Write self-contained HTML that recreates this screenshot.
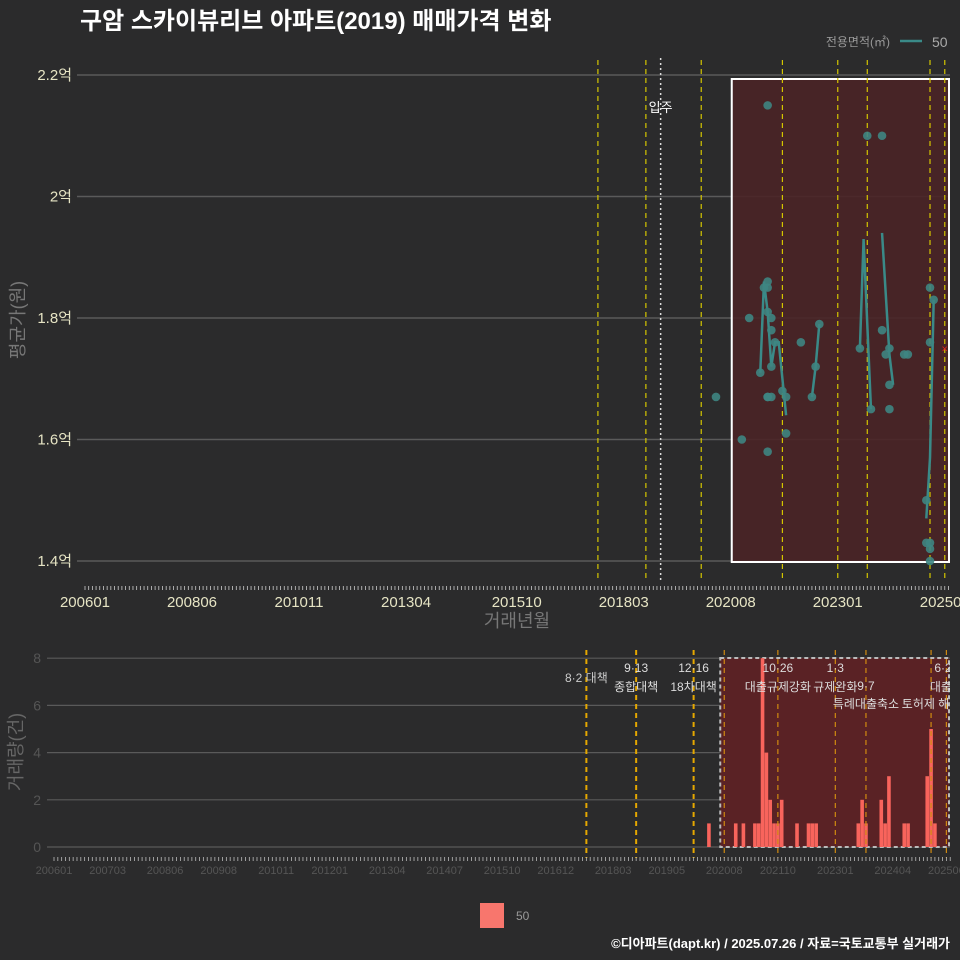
<!DOCTYPE html>
<html><head><meta charset="utf-8">
<style>
html,body{margin:0;padding:0;background:#2b2b2c;}
svg{display:block;font-family:"Liberation Sans","Noto Sans CJK KR",sans-serif;}
</style></head>
<body>
<svg id="chart" width="960" height="960" viewBox="0 0 960 960" xmlns="http://www.w3.org/2000/svg">
<rect x="0" y="0" width="960" height="960" fill="#2b2b2c"/>
<text x="80" y="29" font-size="24" font-weight="bold" fill="#ffffff">구암 스카이뷰리브 아파트(2019) 매매가격 변화</text>
<text x="890" y="46" font-size="12" fill="#999" text-anchor="end">전용면적(㎡)</text>
<line x1="900" y1="41" x2="922" y2="41" stroke="#3a8a88" stroke-width="2.5"/>
<text x="932" y="47" font-size="14" fill="#aaa">50</text>
<text transform="translate(24,320) rotate(-90)" font-size="18" fill="#777" text-anchor="middle">평균가(원)</text>
<text x="517" y="627" font-size="18" fill="#777" text-anchor="middle">거래년월</text>
<text transform="translate(22,752) rotate(-90)" font-size="18" fill="#666" text-anchor="middle">거래량(건)</text>
<rect x="480" y="903" width="24" height="25" fill="#f8766d"/>
<text x="516" y="920" font-size="12" fill="#999">50</text>
<text x="950" y="948" font-size="13" font-weight="bold" fill="#fff" text-anchor="end">©디아파트(dapt.kr) / 2025.07.26 / 자료=국토교통부 실거래가</text>
<g id="topg"></g>
<g id="botg"></g>
</svg>
<script>
const priceTicks = [1.4, 1.6, 1.8, 2.0, 2.2];
const priceTickLabels = ["1.4억", "1.6억", "1.8억", "2억", "2.2억"];
const topXLabels = ["200601","200806","201011","201304","201510","201803","202008","202301","202506"];
const botXLabels = ["200601","200703","200806","200908","201011","201201","201304","201407","201510","201612","201803","201905","202008","202110","202301","202404","202506"];
const pointMonths = [171,185,212,216,185,184,185,180,185,186,186,187,183,186,185,185,186,189,190,190,178,185,194,197,198,199,210,216,213,217,218,218,218,222,223,229,230,229,228,228,229,229,229];
const pointValues = [1.67,2.15,2.10,2.10,1.86,1.85,1.85,1.80,1.81,1.80,1.78,1.76,1.71,1.72,1.67,1.67,1.67,1.68,1.67,1.61,1.60,1.58,1.76,1.67,1.72,1.79,1.75,1.78,1.65,1.74,1.75,1.69,1.65,1.74,1.74,1.85,1.83,1.76,1.50,1.43,1.43,1.42,1.40];
const lineSeg1M = [183,184,185,186,187,188,190];
const lineSeg1V = [1.71,1.86,1.81,1.72,1.76,1.76,1.64];
const lineSeg2M = [197,198,199];
const lineSeg2V = [1.67,1.72,1.79];
const lineSeg3M = [210,211,213];
const lineSeg3V = [1.75,1.93,1.65];
const lineSeg4M = [216,218,219];
const lineSeg4V = [1.94,1.74,1.69];
const lineSeg5M = [228,229,230];
const lineSeg5V = [1.47,1.57,1.83];
const volMonths = [171,178,180,183,184,185,186,187,188,189,190,194,197,198,199,210,211,212,216,217,218,222,223,228,229,230];
const volCounts = [1,1,1,1,1,8,4,2,1,1,2,1,1,1,1,1,2,1,2,1,3,1,1,3,5,1];
const policyMonths = [139,152,167,189,204,212,229,233];
const policyTop = ["8·2 대책","9·13","12·16","10·26","1·3","","","6·27"];
const policyBottom = ["","종합대책","18차대책","대출규제강화","규제완화","특례대출축소","토허제 해제","대출규"];
const moveInMonth = 156;
const lastPriceMonth = 233, lastPriceValue = 1.75;

const NS="http://www.w3.org/2000/svg";
function mk(tag, attrs, parent, txt){const e=document.createElementNS(NS,tag);for(const k in attrs)e.setAttribute(k,attrs[k]);if(txt!==undefined)e.textContent=txt;parent.appendChild(e);return e;}
const topG=document.getElementById('topg'), botG=document.getElementById('botg');
const xT = m => 85 + 3.69*m;
const yT = v => 561 - (v-1.4)/0.2*121.5;
const xB = m => 54 + 3.83*m;
const yB = c => 847 - c*23.6;

priceTicks.forEach((v,i)=>{
  let g=mk('line',{x1:77,x2:950,y1:yT(v),y2:yT(v),stroke:'#5a5a5a','stroke-width':1.5},topG);
  
  let t=mk('text',{x:72,y:yT(v)+5,'font-size':15,fill:'#e6e4c4','text-anchor':'end'},topG,priceTickLabels[i]);
  
});
let hr=mk('rect',{x:xT(175)+1,y:79,width:949-xT(175)-1,height:483,fill:'#4a2326',stroke:'#ffffff','stroke-width':2,'fill-opacity':0.9},topG);

policyMonths.forEach(m=>{
  let l=mk('line',{x1:xT(m),x2:xT(m),y1:60,y2:582,stroke:'#d4c600','stroke-width':1.2,'stroke-dasharray':'5,4'},topG);
  
});
let mv=mk('line',{x1:xT(moveInMonth),x2:xT(moveInMonth),y1:58,y2:582,stroke:'#ddd','stroke-width':1.5,'stroke-dasharray':'2,3'},topG);

let mt=mk('text',{x:xT(moveInMonth),y:112,'font-size':13,fill:'#fff','text-anchor':'middle'},topG,'입주');

[[lineSeg1M,lineSeg1V],[lineSeg2M,lineSeg2V],[lineSeg3M,lineSeg3V],[lineSeg4M,lineSeg4V],[lineSeg5M,lineSeg5V]].forEach(([ms,vs])=>{
  let p=mk('polyline',{points:ms.map((m,i)=>xT(m)+','+yT(vs[i])).join(' '),fill:'none',stroke:'#3a8a88','stroke-width':2.5},topG);
  
});
pointMonths.forEach((m,i)=>{
  let c=mk('circle',{cx:xT(m),cy:yT(pointValues[i]),r:4.3,fill:'#3e8582','fill-opacity':0.9},topG);
  
});
let rx=mk('text',{x:xT(lastPriceMonth),y:yT(lastPriceValue)+4,'font-size':11,fill:'#e02020','text-anchor':'middle'},topG,'×');

for(let m=0;m<=234;m++){
  let t=mk('line',{x1:xT(m),x2:xT(m),y1:586,y2:590,stroke:'#ccc','stroke-width':0.8},topG);
  
}
topXLabels.forEach((s,i)=>{
  const y=+s.slice(0,4),mo=+s.slice(4);const m=(y-2006)*12+mo-1;
  let t=mk('text',{x:xT(m),y:607,'font-size':15,fill:'#e6e4c4','text-anchor':'middle'},topG,s);
  
});

[0,2,4,6,8].forEach(c=>{
  let g=mk('line',{x1:47,x2:950,y1:yB(c),y2:yB(c),stroke:'#5a5a5a','stroke-width':1.2},botG);
  
  let t=mk('text',{x:41,y:yB(c)+5,'font-size':14,fill:'#555','text-anchor':'end'},botG,String(c));
  
});
let br=mk('rect',{x:xB(175)-4,y:658,width:949-xB(175)+4,height:189,fill:'#5a2225',stroke:'#bbb','stroke-width':2,'stroke-dasharray':'4,3'},botG);

volMonths.forEach((m,i)=>{
  let b=mk('rect',{x:xB(m)-1.8,y:yB(volCounts[i]),width:3.6,height:volCounts[i]*23.6,fill:'#f8645c'},botG);
  
});
[...policyMonths.slice(0,3),175,...policyMonths.slice(3)].forEach(m=>{
  let l=mk('line',{x1:xB(m),x2:xB(m),y1:650,y2:858,stroke:m<175?'#e6a800':'#d08a10','stroke-width':m<175?2:1.2,'stroke-dasharray':'5,4'},botG);
  
});
const cp=mk('clipPath',{id:'bc'},botG);mk('rect',{x:40,y:640,width:910,height:220},cp);
const ag=mk('g',{'clip-path':'url(#bc)'},botG);
policyMonths.forEach((m,i)=>{
  let x=xB(m);
  if(i===0){let t=mk('text',{x:x,y:682,'font-size':12,fill:'#ccc','text-anchor':'middle'},ag,policyTop[0]);return;}
  if(i===5){let t=mk('text',{x:x,y:690,'font-size':12,fill:'#ddd','text-anchor':'middle'},ag,'9·7');
    let t2=mk('text',{x:x,y:708,'font-size':12,fill:'#ddd','text-anchor':'middle'},ag,policyBottom[5]);return;}
  if(i===6){let t=mk('text',{x:x,y:708,'font-size':12,fill:'#ddd','text-anchor':'middle'},ag,policyBottom[6]);return;}
  let t=mk('text',{x:x,y:672,'font-size':12,fill:'#ddd','text-anchor':'middle'},ag,policyTop[i]);
  
  let t2=mk('text',{x:x,y:691,'font-size':12,fill:'#ddd','text-anchor':'middle'},ag,policyBottom[i]);
  
});
for(let m=0;m<=234;m++){
  let t=mk('line',{x1:xB(m),x2:xB(m),y1:857,y2:861,stroke:'#bbb','stroke-width':0.8},botG);
  
}
botXLabels.forEach((s,i)=>{
  const y=+s.slice(0,4),mo=+s.slice(4);const m=(y-2006)*12+mo-1;
  let t=mk('text',{x:xB(m),y:874,'font-size':11,fill:'#555','text-anchor':'middle'},botG,s);
  
});
</script>
</body></html>
